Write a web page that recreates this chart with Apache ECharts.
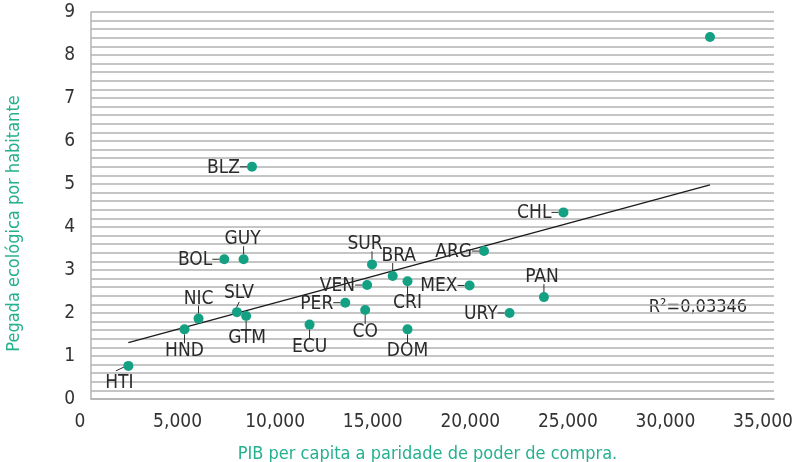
<!DOCTYPE html>
<html>
<head>
<meta charset="utf-8">
<script src="https://cdn.jsdelivr.net/npm/echarts@6/dist/echarts.min.js"></script>
<style>
html,body{margin:0;padding:0;background:#fff;}
#chart{width:794px;height:462px;}
</style>
</head>
<body>
<div id="chart"></div>
<script>
// ---- data ----
const countries = ['HTI','HND','NIC','SLV','GTM','BOL','GUY','BLZ','ECU','PER','CO','VEN','SUR','BRA','CRI','DOM','MEX','ARG','CHL','PAN','URY',''];
const gdpPpp    = [1915, 4790, 5510, 7480, 7950, 6830, 7820, 8250, 11200, 13030, 14050, 14150, 14400, 15460, 16220, 16220, 19400, 20140, 24210, 23210, 21450, 31720];
const footprint = [0.77, 1.62, 1.87, 2.02, 1.93, 3.25, 3.25, 5.40, 1.73, 2.24, 2.07, 2.65, 3.13, 2.86, 2.74, 1.62, 2.64, 3.44, 4.34, 2.37, 2.00, 8.42];
const trendX = [1915, 31720];
const trendY = [1.31, 4.98];
const rSquared = 'R\u00B2=0,03346';
const xTitle = 'PIB per capita a paridade de poder de compra.';
const yTitle = 'Pegada ecológica por habitante';

// ---- label layout (style only) ----
const FONT = "'Liberation Sans Narrow','DejaVu Sans Condensed',sans-serif";
const GREEN = '#14a083';
const TITLE_GREEN = '#25b08e';
const place = {
  HTI:{side:'custom', t:[-9,17], l:[[-12.5,5],[-4,1]]},
  HND:{side:'bottom', dx:0},
  NIC:{side:'top', dx:0},
  SLV:{side:'custom', t:[2,-19], l:[[2.3,-10.3],[-0.5,-4.5]]},
  GTM:{side:'bottom', dx:1},
  BOL:{side:'left'},
  GUY:{side:'top', dx:-1},
  BLZ:{side:'left'},
  ECU:{side:'bottom', dx:0},
  PER:{side:'left'},
  CO:{side:'bottom', dx:0},
  VEN:{side:'left'},
  SUR:{side:'top', dx:-7},
  BRA:{side:'top', dx:6},
  CRI:{side:'bottom', dx:0},
  DOM:{side:'bottom', dx:0},
  MEX:{side:'left'},
  ARG:{side:'left'},
  CHL:{side:'left'},
  PAN:{side:'top', dx:-2},
  URY:{side:'left'}
};

const points = gdpPpp.map((x,i)=>[x, footprint[i]]);
const trend = trendX.map((x,i)=>[x, trendY[i]]);

const chart = echarts.init(document.getElementById('chart'), null, {renderer:'canvas'});

function renderLabel(params, api){
  const name = countries[params.dataIndex];
  const cfg = place[name];
  if(!name || !cfg) return null;
  const p = api.coord([api.value(0), api.value(1)]);
  const fontStr = '19px ' + FONT;
  let tx, ty, align='center', l;
  if(cfg.side==='left'){
    tx = p[0]-12; ty = p[1]+1; align='right'; l=[[-5,0],[-12,0]];
  } else if(cfg.side==='top'){
    tx = p[0]+cfg.dx; ty = p[1]-20; l=[[0,-5],[0,-13]];
  } else if(cfg.side==='bottom'){
    tx = p[0]+cfg.dx; ty = p[1]+22; l=[[0,5],[0,14]];
  } else {
    tx = p[0]+cfg.t[0]; ty = p[1]+cfg.t[1]; l=cfg.l;
  }
  return {
    type:'group',
    children:[
      {type:'line', shape:{x1:p[0]+l[0][0], y1:p[1]+l[0][1], x2:p[0]+l[1][0], y2:p[1]+l[1][1]},
       style:{stroke:'#2b2b2b', lineWidth:1}},
      {type:'text', x:tx, y:ty,
       style:{text:name, font:fontStr, fill:'#2b2b2b', align:align, verticalAlign:'middle'}}
    ]
  };
}

const option = {
  animation:false,
  backgroundColor:'#ffffff',
  textStyle:{fontFamily:FONT},
  grid:{left:91, right:20, top:12, bottom:63, containLabel:false, outerBoundsMode:'none'},
  xAxis:{
    type:'value', min:0, max:35000, interval:5000,
    name:xTitle, nameLocation:'middle', nameGap:46,
    nameTextStyle:{color:TITLE_GREEN, fontSize:18, fontFamily:FONT, padding:[0,10,0,0]},
    axisLine:{show:true, lineStyle:{color:'#b3b3b3', width:1.5}},
    axisTick:{show:false},
    splitLine:{show:false},
    axisLabel:{color:'#333333', fontSize:19, fontFamily:FONT, margin:14, padding:[0,22,0,0],
      formatter:v=>v.toLocaleString('en-US')}
  },
  yAxis:{
    type:'value', min:0, max:9, interval:1,
    name:yTitle, nameLocation:'middle', nameGap:68,
    nameTextStyle:{color:TITLE_GREEN, fontSize:18, fontFamily:FONT, padding:[0,36,0,0]},
    axisLine:{show:true, lineStyle:{color:'#b3b3b3', width:1.5}},
    axisTick:{show:false},
    splitLine:{show:true, lineStyle:{color:'#b3b3b3', width:1.5}},
    minorTick:{show:false, splitNumber:5},
    minorSplitLine:{show:true, lineStyle:{color:'#b3b3b3', width:1.5}},
    axisLabel:{color:'#333333', fontSize:19, fontFamily:FONT, margin:16}
  },
  graphic:[{
    type:'text', x:698, y:307,
    style:{text:rSquared, font:'18px '+FONT, fill:'#2b2b2b', align:'center', verticalAlign:'middle'}
  }],
  series:[
    {type:'line', data:trend, showSymbol:false, symbol:'none', z:2,
     lineStyle:{color:'#1a1a1a', width:1.3}, silent:true},
    {type:'custom', data:points, renderItem:renderLabel, z:3, silent:true},
    {type:'scatter', data:points, symbol:'circle', symbolSize:10, z:4,
     itemStyle:{color:GREEN, opacity:1}}
  ]
};
chart.setOption(option);
</script>
</body>
</html>
